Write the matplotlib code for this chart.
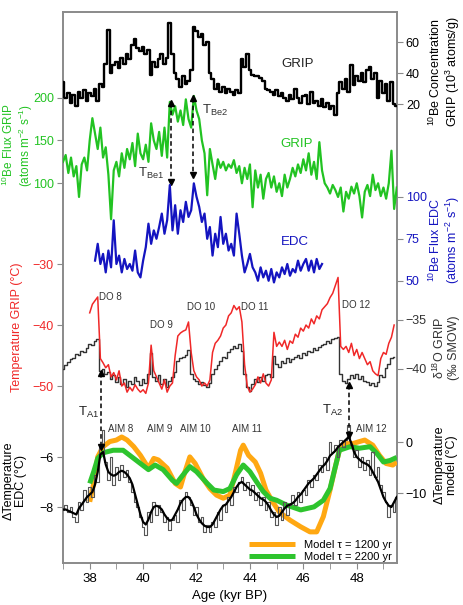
import numpy as np
import matplotlib
matplotlib.use('Agg')
import matplotlib.pyplot as plt

plt.rcParams['font.family'] = ['Liberation Sans', 'DejaVu Sans']
plt.rcParams['mathtext.fontset'] = 'custom'
plt.rcParams['mathtext.rm'] = 'Liberation Sans'
plt.rcParams['mathtext.default'] = 'regular'

# 10Be concentration GRIP (10^3 atoms/g), 0.1 kyr steps from 37.0
be_conc = [34, 24, 27, 21, 26, 19, 28, 24, 29, 22,
           27, 25, 30, 22, 33, 31, 46, 68, 40, 45,
           47, 43, 50, 46, 52, 49, 58, 62, 56, 54,
           57, 52, 55, 39, 47, 44, 49, 52, 46, 50,
           72, 52, 40, 36, 31, 38, 33, 35, 42, 70,
           67, 63, 65, 58, 60, 40, 36, 30, 33, 28,
           31, 27, 30, 28, 26, 29, 27, 49, 44, 52,
           42, 39, 38, 38, 37, 35, 30, 29, 28, 26,
           29, 25, 27, 24, 22, 26, 23, 30, 24, 21,
           25, 26, 20, 28, 21, 22, 19, 23, 18, 21,
           17, 19, 13, 27, 34, 30, 36, 28, 45, 32,
           38, 35, 40, 34, 42, 44, 36, 40, 24, 35,
           27, 33, 22, 34, 20, 19]

# 10Be flux GRIP (atoms m-2 s-1), 0.1 kyr steps from 37.0
flux_grip = [125, 133, 112, 130, 108, 120, 84, 122, 130, 115,
             150, 176, 158, 140, 165, 130, 142, 110, 58, 115,
             125, 108, 135, 118, 140, 128, 147, 120, 158, 135,
             128, 145, 125, 170, 150, 140, 160, 132, 165, 130,
             195, 180, 190, 172, 185, 168, 198, 175, 165, 202,
             185, 175, 150, 135, 86, 140, 122, 105, 128, 118,
             125, 115, 122, 118, 127, 112, 120, 100, 118, 105,
             122, 72, 115, 95, 110, 82, 105, 112, 95, 108,
             90, 100, 85, 110, 95, 105, 118, 108, 122, 112,
             128, 115, 135, 110, 125, 105, 148, 115, 100, 95,
             88, 98, 92, 84, 95, 67, 90, 82, 96, 88,
             100, 85, 60, 90, 98, 85, 110, 92, 100, 85,
             95, 82, 100, 138, 70, 95]

# 10Be flux EDC, 0.1 kyr steps from 38.2
flux_edc = [62, 72, 60, 66, 55, 68, 58, 86,
            60, 65, 55, 63, 57, 60, 56, 68, 55, 52,
            62, 70, 84, 72, 80, 75, 82, 90, 78, 86,
            107, 80, 95, 78, 92, 85, 97, 88, 92, 108,
            100, 94, 85, 90, 75, 82, 65, 78, 70, 88,
            72, 78, 68, 72, 65, 90, 78, 65, 55, 60,
            66, 58, 55, 50, 58, 52, 56, 50, 57, 49,
            55, 52, 58, 54, 60, 53, 57, 55, 62, 56,
            60, 63, 56, 62, 55, 63, 57, 60]

# Temperature GRIP (degC), 0.1 kyr steps from 38.0
temp_grip = [-38.0, -36.6, -36.0, -35.4, -45.5, -46.2, -47.0, -46.5, -48.5, -47.8,
             -49.0, -47.5, -50.0, -49.5, -51.0, -50.2, -50.8, -49.8, -50.5, -51.0,
             -50.6, -51.2, -49.5, -43.3, -47.5, -48.5, -49.5, -50.5, -49.0, -51.0,
             -50.0, -49.5, -45.0, -41.8, -41.3, -41.0, -40.8, -39.5, -44.5, -47.5,
             -48.5, -49.0, -50.0, -49.5, -50.0, -49.0, -44.5, -43.0, -42.5, -41.8,
             -40.5, -40.0, -38.5, -38.0, -36.8, -37.5, -37.0, -39.5, -46.5, -50.0,
             -51.0, -50.5, -49.8, -48.5, -49.5, -48.0, -49.5, -50.0, -49.0, -41.2,
             -43.5, -42.8, -43.5, -42.5, -44.0, -42.6, -43.0, -41.5, -42.0, -40.5,
             -41.0, -40.0, -40.5, -39.0, -39.8, -38.5, -39.0, -37.5, -37.0, -36.5,
             -35.5, -34.8, -33.5, -32.2, -43.5, -44.0, -43.5, -44.5, -43.0, -45.0,
             -44.0, -45.5, -44.5, -45.5, -46.5, -46.0, -47.5, -48.0, -48.3, -45.5,
             -44.5, -44.8, -43.0, -42.0, -40.0]

# d18O GRIP (permil SMOW), 0.1 kyr steps from 37.0
d18o = [-40.0, -39.6, -39.3, -39.0, -38.9, -38.5, -38.6, -38.2, -38.3, -37.9,
        -37.5, -37.6, -37.2, -37.0, -40.2, -40.0, -40.5, -40.3, -41.0, -40.6,
        -41.3, -40.8, -41.5, -41.0, -41.8, -41.2, -41.5, -40.8, -41.2, -41.6,
        -41.0, -41.4, -40.5, -38.4, -40.8, -41.2, -40.6, -41.5, -41.0, -41.8,
        -41.2, -40.8, -40.3, -39.2, -38.9, -38.8, -38.6, -38.1, -40.5, -41.0,
        -41.2, -41.5, -41.3, -41.6, -41.8, -41.4, -40.5, -40.0, -39.6, -39.2,
        -38.8, -38.9, -38.3, -38.0, -37.7, -37.9, -37.5, -38.2, -40.5, -41.8,
        -42.3, -41.5, -41.0, -41.3, -40.8, -41.2, -40.6, -40.5, -40.8, -38.7,
        -39.5, -39.8, -39.2, -39.4, -38.9, -39.3, -39.0, -38.8, -38.6, -38.9,
        -38.4, -38.6, -38.2, -38.3, -37.9, -38.1, -37.8, -37.6, -37.5, -37.2,
        -37.4, -37.0, -36.9, -36.7, -40.5, -41.2, -41.4, -41.0, -40.6, -40.9,
        -40.5, -41.0, -40.7, -41.2, -41.3, -41.6, -41.4, -41.7, -41.3, -40.6,
        -40.8, -39.9, -39.5, -38.9, -38.8]

# Delta temperature EDC (degC), raw and smoothed, 0.1 kyr steps from 37.0
dt_edc_raw = [-8.1, -7.9, -8.2, -8.0, -8.4, -8.6, -7.8, -8.1, -7.3, -7.8,
              -7.2, -7.6, -6.7, -7.0, -5.6, -4.9, -6.2, -6.9, -6.0, -7.1,
              -6.4, -6.9, -6.3, -6.8, -6.5, -7.0, -7.4, -7.8, -8.0, -8.4,
              -8.8, -9.1, -8.2, -8.6, -7.8, -8.3, -7.9, -8.2, -8.6, -8.4,
              -8.9, -8.5, -8.3, -8.6, -7.7, -8.1, -7.4, -7.6, -7.9, -8.3,
              -8.0, -8.6, -8.4, -9.0, -8.7, -9.0, -8.6, -8.8, -8.2, -8.5,
              -7.9, -8.2, -7.6, -7.9, -7.2, -7.4, -7.0, -6.8, -7.3, -7.0,
              -7.5, -7.1, -7.7, -7.4, -7.9, -7.6, -8.1, -7.8, -8.4, -8.2,
              -8.7, -8.0, -8.5, -7.8, -8.3, -7.9, -7.5, -7.9, -7.4, -7.8,
              -7.3, -7.5, -6.9, -7.2, -6.7, -6.9, -6.3, -6.6, -6.0, -6.5,
              -5.4, -5.8, -5.5, -6.0, -5.3, -5.6, -5.3, -4.7, -5.5, -6.0,
              -5.7, -6.4, -6.0, -6.5, -6.1, -6.7, -5.8, -6.8, -6.4, -7.1,
              -7.4, -7.8, -8.4, -7.9, -8.2, -7.6]
dt_edc_smooth = [-8.1, -8.1, -8.15, -8.2, -8.25, -8.3, -8.05, -7.9, -7.75, -7.6,
                 -7.5, -7.4, -7.1, -6.6, -5.9, -5.8, -6.3, -6.6, -6.7, -6.75,
                 -6.7, -6.6, -6.55, -6.6, -6.7, -6.85, -7.1, -7.5, -7.9, -8.3,
                 -8.6, -8.7, -8.5, -8.2, -8.0, -7.95, -8.0, -8.1, -8.3, -8.45,
                 -8.55, -8.5, -8.3, -8.1, -7.85, -7.7, -7.6, -7.6, -7.75, -8.0,
                 -8.3, -8.5, -8.65, -8.75, -8.8, -8.8, -8.7, -8.5, -8.3, -8.1,
                 -7.95, -7.9, -7.75, -7.6, -7.4, -7.2, -7.05, -7.0, -7.1, -7.2,
                 -7.3, -7.35, -7.45, -7.55, -7.65, -7.7, -7.8, -7.95, -8.15, -8.3,
                 -8.4, -8.35, -8.2, -8.05, -7.95, -7.9, -7.85, -7.75, -7.6, -7.5,
                 -7.35, -7.2, -7.05, -6.95, -6.85, -6.7, -6.55, -6.4, -6.3, -6.15,
                 -5.95, -5.85, -5.75, -5.6, -5.5, -5.4, -5.3, -5.2, -5.45, -5.8,
                 -6.0, -6.1, -6.2, -6.25, -6.3, -6.4, -6.6, -6.8, -7.0, -7.3,
                 -7.6, -7.8, -7.95, -8.0, -7.8, -7.6]

# model delta temperature (degC)
m1200_age = [38.0, 38.15, 38.3, 38.5, 38.75, 39.0, 39.2, 39.4, 39.65, 39.9,
             40.2, 40.4, 40.57, 40.9, 41.2, 41.4, 41.55, 41.75, 41.95, 42.25,
             42.5, 42.75, 43.0, 43.25, 43.45, 43.65, 43.75, 43.95, 44.2, 44.4,
             44.6, 44.85, 45.1, 45.5, 45.9, 46.25, 46.5, 46.75, 47.0, 47.2,
             47.35, 47.6, 47.85, 48.1, 48.3, 48.6, 48.85, 49.1, 49.35, 49.5]
m1200 = [-11.7, -8.1, -2.9, -0.9, 0.1, 0.4, 1.0, 0.4, -0.9, -2.6,
         -5.1, -3.2, -3.5, -5.1, -8.1, -8.8, -6.1, -2.9, -4.2, -7.2,
         -9.1, -10.4, -11.0, -10.4, -6.1, -1.6, -0.6, -2.6, -3.9, -6.1,
         -9.4, -11.7, -13.7, -15.3, -16.6, -17.6, -17.6, -14.6, -9.4, -4.8,
         -1.6, -0.3, -0.3, 0.1, 0.4, -0.6, -2.6, -4.2, -4.5, -3.9]
m2200_age = [38.0, 38.15, 38.3, 38.5, 38.88, 39.25, 39.5, 39.9, 40.2, 40.45,
             40.75, 41.1, 41.25, 41.5, 41.75, 42.0, 42.4, 42.65, 43.0, 43.25,
             43.5, 43.75, 44.0, 44.25, 44.5, 44.75, 45.0, 45.35, 45.9, 46.4,
             46.75, 47.0, 47.2, 47.35, 47.75, 48.1, 48.5, 48.75, 49.0, 49.25, 49.5]
m2200 = [-8.1, -5.8, -3.2, -2.1, -1.6, -1.6, -2.6, -4.2, -5.4, -4.5,
         -5.4, -7.5, -8.1, -6.4, -4.8, -5.8, -8.1, -9.4, -9.7, -9.1,
         -6.4, -4.5, -5.8, -7.8, -9.7, -11.0, -11.4, -12.3, -13.3, -12.7,
         -11.4, -9.1, -4.8, -1.6, -0.9, -1.2, -0.9, -2.2, -3.9, -3.6, -3.0]

W, H = 463, 605
fig = plt.figure(figsize=(W / 100, H / 100), dpi=100)
ax = fig.add_axes([63 / W, 42 / H, 333.8 / W, 551 / H])
ax.set_xlim(37, 49.5)
ax.set_ylim(0, 1)
ax.set_yticks([])
ax.set_xticks([38, 40, 42, 44, 46, 48])
ax.set_xticks(range(37, 50), minor=True)
for s in ax.spines.values():
    s.set_color('#8a8a8a')
    s.set_linewidth(1.4)
ax.tick_params(axis='x', which='both', direction='out', length=4,
               color='#8a8a8a', labelsize=9.5)
ax.set_xlabel('Age (kyr BP)', fontsize=9.5, labelpad=3)


def twin(lim, ticks, side, color):
    t = ax.twinx()
    t.set_ylim(*lim)
    t.set_yticks(ticks)
    for s in t.spines.values():
        s.set_visible(False)
    if side == 'left':
        t.yaxis.tick_left()
    t.tick_params(axis='y', direction='out', length=4, color='#8a8a8a',
                  labelcolor=color, labelsize=9, pad=2.5)
    return t


def ages(start, vals):
    return start + 0.1 * np.arange(len(vals))


green = '#22c322'
blue = '#1414c0'
red = '#f02828'

# 10Be concentration
a1 = twin((-276, 79.4), [20, 40, 60], 'right', 'k')
a1.plot(ages(37.0, be_conc), be_conc, color='k', lw=1.7, drawstyle='steps-mid')
a1.text(45.8, 46, 'GRIP', color='#222222', fontsize=9.5, ha='center', va='center')

# 10Be flux GRIP
a2 = twin((-343.5, 300), [100, 150, 200], 'left', green)
a2.plot(ages(37.0, flux_grip), flux_grip, color=green, lw=1.6)
a2.text(45.76, 146, 'GRIP', color=green, fontsize=9.5, ha='center', va='center')
a2.text(40.3, 111, 'T$_{Be1}$', color='#333333', fontsize=9.5, ha='center', va='center')
a2.text(42.69, 184.5, 'T$_{Be2}$', color='#333333', fontsize=9.5, ha='center', va='center')
for x, top, bot in [(41.04, 194, 101), (41.87, 200, 110)]:
    a2.plot([x, x], [top, bot], color='k', lw=1.1, ls=(0, (3, 2)))
    a2.plot(x, top, marker='^', color='k', ms=4)
    a2.plot(x, bot, marker='v', color='k', ms=4)

# 10Be flux EDC
a3 = twin((-118, 210), [50, 75, 100], 'right', blue)
a3.plot(ages(38.2, flux_edc), flux_edc, color=blue, lw=1.6)
a3.text(45.68, 73.2, 'EDC', color=blue, fontsize=9.5, ha='center', va='center')

# d18O GRIP
a5 = twin((-59.8, -3.6), [-40, -35], 'right', '#333333')
a5.plot(ages(37.0, d18o), d18o, color='#333333', lw=1.0, drawstyle='steps-mid')

# Temperature GRIP
a4 = twin((-79, 11.3), [-50, -40, -30], 'left', red)
a4.plot(ages(38.0, temp_grip), temp_grip, color=red, lw=1.1)
for x, y, s in [(38.76, -35.4, 'DO 8'), (40.7, -40.0, 'DO 9'),
                (42.16, -37.05, 'DO 10'), (44.19, -37.05, 'DO 11'),
                (47.97, -36.7, 'DO 12')]:
    a4.text(x, y, s, fontsize=7, color='#333333', ha='center', va='center')

# model
a7 = twin((-23.7, 84.3), [-10, 0], 'right', 'k')
a7.plot(m1200_age, m1200, color='#ffa812', lw=3.6, solid_capstyle='butt',
        label='Model \u03c4 = 1200 yr')
a7.plot(m2200_age, m2200, color='#2ec42e', lw=3.6, solid_capstyle='butt',
        label='Model \u03c4 = 2200 yr')
a7.legend(loc='lower right', bbox_to_anchor=(392 / W, 1 - 562 / H),
          bbox_transform=fig.transFigure, frameon=False, fontsize=8,
          handlelength=4.2, handletextpad=0.8, labelspacing=0.15,
          borderaxespad=0, borderpad=0)

# Delta temperature EDC
a6 = twin((-10.24, 11.8), [-8, -6], 'left', 'k')
a6.plot(ages(37.0, dt_edc_raw), dt_edc_raw, color='#555555', lw=0.8,
        drawstyle='steps-mid')
a6.plot(ages(37.0, dt_edc_smooth), dt_edc_smooth, color='k', lw=1.6)
a6.text(37.94, -4.2, 'T$_{A1}$', fontsize=9.5, color='#222222', ha='center', va='center')
a6.text(47.1, -4.12, 'T$_{A2}$', fontsize=9.5, color='#222222', ha='center', va='center')
for x, s in [(39.17, 'AIM 8'), (40.63, 'AIM 9'), (41.94, 'AIM 10'),
             (43.89, 'AIM 11'), (48.53, 'AIM 12')]:
    a6.text(x, -4.88, s, fontsize=7, color='#333333', ha='center', va='center')
for x, top, bot in [(38.42, -2.63, -5.6), (47.7, -3.12, -5.12)]:
    a6.plot([x, x], [top, bot], color='k', lw=1.1, ls=(0, (3, 2)))
    a6.plot(x, top, marker='^', color='k', ms=4)
    a6.plot(x, bot, marker='v', color='k', ms=4)

# axis titles
labels = [
    (445, 72, '$^{10}$Be Concentration\nGRIP (10$^3$ atoms/g)', 'k', 9),
    (18, 145, '$^{10}$Be Flux GRIP\n(atoms m$^{-2}$ s$^{-1}$)', green, 8.5),
    (445, 240, '$^{10}$Be Flux EDC\n(atoms m$^{-2}$ s$^{-1}$)', blue, 9),
    (17, 327, 'Temperature GRIP (\u00b0C)', red, 9),
    (446, 348, '\u03b4$^{18}$O GRIP\n(\u2030 SMOW)', '#333333', 9),
    (15, 481, '\u0394Temperature\nEDC (\u00b0C)', 'k', 9),
    (446, 465, '\u0394Temperature\nmodel (\u00b0C)', 'k', 9),
]
for x, y, s, c, fs in labels:
    fig.text(x / W, 1 - y / H, s, rotation=90, ha='center', va='center',
             color=c, fontsize=fs, linespacing=1.05)

fig.savefig('out.png', dpi=100)
